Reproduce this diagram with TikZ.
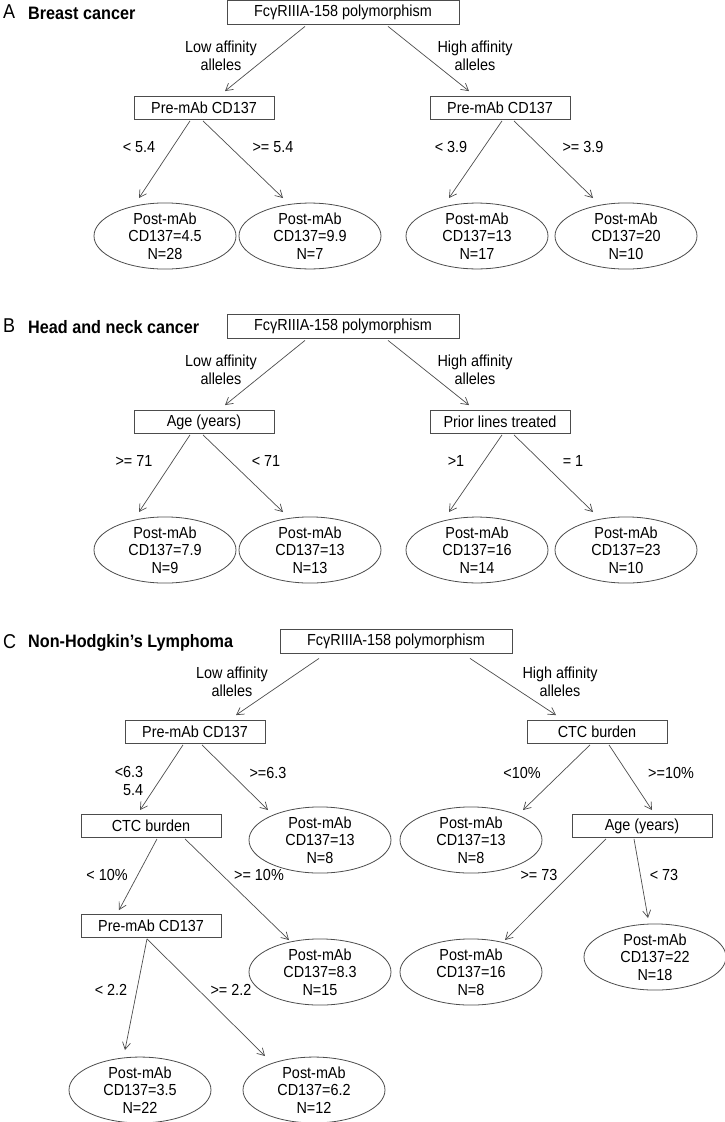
\documentclass[tikz,border=0pt]{standalone}
\usepackage{fontspec}
\setmainfont{Liberation Sans}[FakeStretch=0.9]
\usetikzlibrary{shapes.geometric,arrows.meta}

\begin{document}
\begin{tikzpicture}[x=1pt,y=-1pt,
  font=\fontsize{16}{17.5}\selectfont,
  splitbox/.style={draw=black!70,line width=0.8pt,minimum width=140pt,minimum height=23pt,inner sep=0pt},
  rootbox/.style={splitbox,minimum width=232pt,minimum height=24pt},
  leaf/.style={ellipse,draw=black!70,line width=0.8pt,minimum width=142pt,minimum height=65pt,inner sep=0pt,align=center},
  lbl/.style={align=center,inner sep=0pt},
  arr/.style={draw=black!70,line width=0.7pt,-{Straight Barb[length=7pt,width=8pt]}},
  panel/.style={anchor=west,inner sep=0pt,font=\fontsize{20}{24}\selectfont},
  title/.style={anchor=west,inner sep=0pt,font=\fontsize{18}{20}\selectfont\bfseries}]
\useasboundingbox (0,0) rectangle (725,1122);

% A: breast cancer
\node[panel] (letA) at (3,12) {A};
\node[title] (titA) at (28,13) {Breast cancer};
\node[rootbox] (rootA) at (343,12) {FcγRIIIA-158 polymorphism};
\node[lbl] (lowA) at (221,56) {Low affinity\\alleles};
\node[lbl] (highA) at (475,56) {High affinity\\alleles};
\node[splitbox] (preAL) at (204,108) {Pre-mAb CD137};
\node[splitbox] (preAR) at (500,108) {Pre-mAb CD137};
\node[lbl] (cutA1) at (139,147) {< 5.4};
\node[lbl] (cutA2) at (273,147) {>= 5.4};
\node[lbl] (cutA3) at (451,147) {< 3.9};
\node[lbl] (cutA4) at (583,147) {>= 3.9};
\node[leaf] (postA1) at (165,236) {Post-mAb\\CD137=4.5\\N=28};
\node[leaf] (postA2) at (310,236) {Post-mAb\\CD137=9.9\\N=7};
\node[leaf] (postA3) at (477,236) {Post-mAb\\CD137=13\\N=17};
\node[leaf] (postA4) at (626,236) {Post-mAb\\CD137=20\\N=10};

\draw[arr] ([shift={(-38,2)}]rootA.south) -- ([shift={(21,-5)}]preAL.north);
\draw[arr] ([shift={(45,2)}]rootA.south) -- ([shift={(-31,-5)}]preAR.north);
\draw[arr] ([shift={(-14,1)}]preAL.south) -- ([shift={(-26,-38)}]postA1.center);
\draw[arr] ([shift={(-1,1)}]preAL.south) -- ([shift={(-27,-38)}]postA2.center);
\draw[arr] ([shift={(2,1)}]preAR.south) -- ([shift={(-28,-38)}]postA3.center);
\draw[arr] ([shift={(14,1)}]preAR.south) -- ([shift={(-33,-38)}]postA4.center);

% B: head and neck cancer
\node[panel] (letB) at (3,326) {B};
\node[title] (titB) at (28,327) {Head and neck cancer};
\node[rootbox] (rootB) at (343,326) {FcγRIIIA-158 polymorphism};
\node[lbl] (lowB) at (221,370) {Low affinity\\alleles};
\node[lbl] (highB) at (475,370) {High affinity\\alleles};
\node[splitbox] (ageB) at (204,422) {Age (years)};
\node[splitbox] (linesB) at (500,422) {Prior lines treated};
\node[lbl] (cutB1) at (134,461) {>= 71};
\node[lbl] (cutB2) at (266,461) {< 71};
\node[lbl] (cutB3) at (456,461) {>1};
\node[lbl] (cutB4) at (573,461) {= 1};
\node[leaf] (postB1) at (165,550) {Post-mAb\\CD137=7.9\\N=9};
\node[leaf] (postB2) at (310,550) {Post-mAb\\CD137=13\\N=13};
\node[leaf] (postB3) at (477,550) {Post-mAb\\CD137=16\\N=14};
\node[leaf] (postB4) at (626,550) {Post-mAb\\CD137=23\\N=10};

\draw[arr] ([shift={(-38,2)}]rootB.south) -- ([shift={(21,-5)}]ageB.north);
\draw[arr] ([shift={(45,2)}]rootB.south) -- ([shift={(-31,-5)}]linesB.north);
\draw[arr] ([shift={(-14,1)}]ageB.south) -- ([shift={(-26,-38)}]postB1.center);
\draw[arr] ([shift={(-1,1)}]ageB.south) -- ([shift={(-27,-38)}]postB2.center);
\draw[arr] ([shift={(2,1)}]linesB.south) -- ([shift={(-28,-38)}]postB3.center);
\draw[arr] ([shift={(14,1)}]linesB.south) -- ([shift={(-33,-38)}]postB4.center);

% C: non-Hodgkin's lymphoma
\node[panel] (letC) at (3,642) {C};
\node[title] (titC) at (28,643) {Non-Hodgkin’s Lymphoma};
\node[rootbox] (rootC) at (396,641) {FcγRIIIA-158 polymorphism};
\node[lbl] (lowC) at (232,682) {Low affinity\\alleles};
\node[lbl] (highC) at (560,682) {High affinity\\alleles};
\node[splitbox] (preC1) at (195,732) {Pre-mAb CD137};
\node[splitbox] (ctcC1) at (597,732) {CTC burden};
\node[lbl,align=right] (cutC1) at (129,781) {<6.3\\5.4};
\node[lbl] (cutC2) at (268,773) {>=6.3};
\node[lbl] (cutC3) at (522,773) {<10\%};
\node[lbl] (cutC4) at (671,773) {>=10\%};
\node[splitbox] (ctcC2) at (151,826) {CTC burden};
\node[leaf] (postC1) at (320,840) {Post-mAb\\CD137=13\\N=8};
\node[leaf] (postC2) at (471,840) {Post-mAb\\CD137=13\\N=8};
\node[splitbox] (ageC) at (642,826) {Age (years)};
\node[lbl] (cutC5) at (107,875) {< 10\%};
\node[lbl] (cutC6) at (259,875) {>= 10\%};
\node[lbl] (cutC7) at (539,875) {>= 73};
\node[lbl] (cutC8) at (664,875) {< 73};
\node[splitbox] (preC2) at (151,926) {Pre-mAb CD137};
\node[leaf] (postC3) at (320,972) {Post-mAb\\CD137=8.3\\N=15};
\node[leaf] (postC4) at (471,972) {Post-mAb\\CD137=16\\N=8};
\node[leaf] (postC5) at (655,957) {Post-mAb\\CD137=22\\N=18};
\node[lbl] (cutC9) at (111,990) {< 2.2};
\node[lbl] (cutC10) at (231,990) {>= 2.2};
\node[leaf] (postC6) at (140,1090) {Post-mAb\\CD137=3.5\\N=22};
\node[leaf] (postC7) at (314,1090) {Post-mAb\\CD137=6.2\\N=12};

\draw[arr] ([shift={(-77,5)}]rootC.south) -- ([shift={(41,-5)}]preC1.north);
\draw[arr] ([shift={(74,5)}]rootC.south) -- ([shift={(-41,-5)}]ctcC1.north);
\draw[arr] ([shift={(-12,1)}]preC1.south) -- ([shift={(-11,-4)}]ctcC2.north);
\draw[arr] ([shift={(7,1)}]preC1.south) -- ([shift={(-52,-30)}]postC1.center);
\draw[arr] ([shift={(-7,1)}]ctcC1.south) -- ([shift={(52,-30)}]postC2.center);
\draw[arr] ([shift={(12,1)}]ctcC1.south) -- ([shift={(10,-4)}]ageC.north);
\draw[arr] ([shift={(6,1)}]ctcC2.south) -- ([shift={(-32,-4)}]preC2.north);
\draw[arr] ([shift={(34,1)}]ctcC2.south) -- ([shift={(-31,-32)}]postC3.center);
\draw[arr] ([shift={(-36,1)}]ageC.south) -- ([shift={(34,-32)}]postC4.center);
\draw[arr] ([shift={(-8,1)}]ageC.south) -- ([shift={(-7,-39)}]postC5.center);
\draw[arr] ([shift={(-4,1)}]preC2.south) -- ([shift={(-15,-40)}]postC6.center);
\draw[arr] ([shift={(-4,1)}]preC2.south) -- ([shift={(-49,-34)}]postC7.center);
\end{tikzpicture}
\end{document}
